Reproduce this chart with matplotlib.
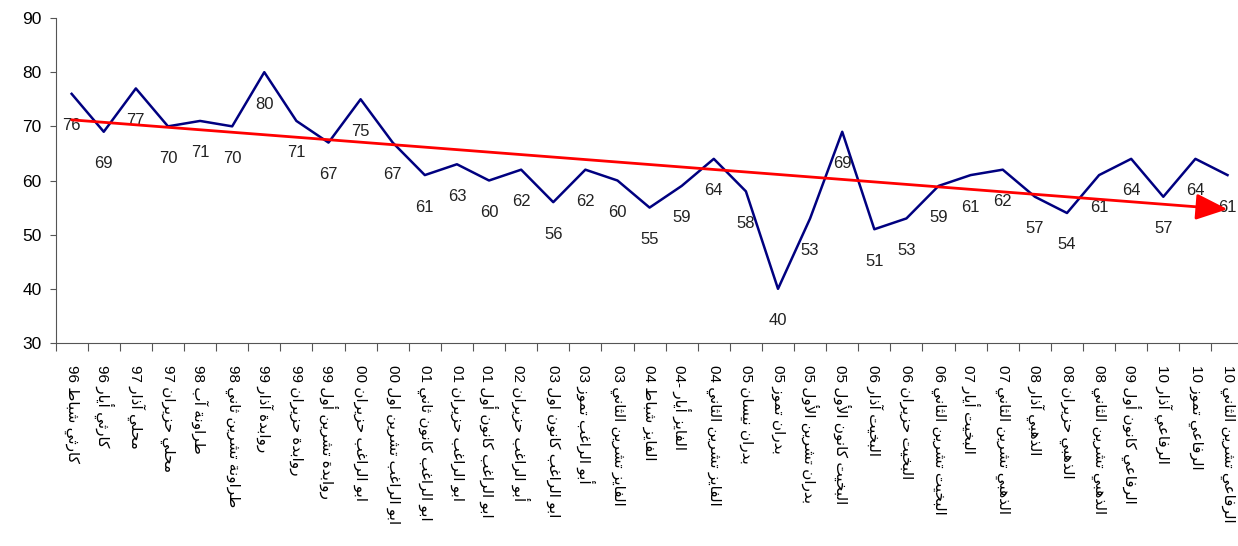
import matplotlib
matplotlib.use("Agg")
import matplotlib.pyplot as plt

plt.rcParams["font.family"] = ["Liberation Sans", "DejaVu Sans"]

labels = [
    "كارثي شباط 96", "كارثي أيار 96", "محلي آذار 97", "محلي حزيران 97",
    "طراونة آب 98", "طراونة تشرين ثاني 98", "روابدة آذار 99", "روابدة حزيران 99",
    "روابدة تشرين أول 99", "ابو الراغب حزيران 00", "ابو الراغب تشرين اول 00",
    "ابو الراغب كانون ثاني 01", "ابو الراغب حزيران 01", "ابو الراغب كانون أول 01",
    "أبو الراغب حزيران 02", "ابو الراغب كانون اول 03", "أبو الراغب تموز 03",
    "الفايز تشرين الثاني 03", "الفايز شباط 04", "الفايز أيار 04-",
    "الفايز تشرين الثاني 04", "بدران نيسان 05", "بدران تموز 05",
    "بدران تشرين الأول 05", "البخيت كانون الأول 05", "البخيت آذار 06",
    "البخيت حزيران 06", "البخيت تشرين الثاني 06", "البخيت أيار 07",
    "الذهبي تشرين الثاني 07", "الذهبي آذار 08", "الذهبي حزيران 08",
    "الذهبي تشرين الثاني 08", "الرفاعي كانون أول 09", "الرفاعي آذار 10",
    "الرفاعي تموز 10", "الرفاعي تشرين الثاني 10",
]
values = [76, 69, 77, 70, 71, 70, 80, 71, 67, 75, 67, 61, 63, 60, 62, 56, 62, 60, 55,
          59, 64, 58, 40, 53, 69, 51, 53, 59, 61, 62, 57, 54, 61, 64, 57, 64, 61]
trend = [71.2, 54.7]

# --- minimal Arabic shaping (matplotlib has no bidi/shaping) ---
FORMS = {
    "ء": (0xFE80, 1), "آ": (0xFE81, 2), "أ": (0xFE83, 2), "ؤ": (0xFE85, 2), "إ": (0xFE87, 2),
    "ئ": (0xFE89, 4), "ا": (0xFE8D, 2), "ب": (0xFE8F, 4), "ة": (0xFE93, 2), "ت": (0xFE95, 4),
    "ث": (0xFE99, 4), "ج": (0xFE9D, 4), "ح": (0xFEA1, 4), "خ": (0xFEA5, 4), "د": (0xFEA9, 2),
    "ذ": (0xFEAB, 2), "ر": (0xFEAD, 2), "ز": (0xFEAF, 2), "س": (0xFEB1, 4), "ش": (0xFEB5, 4),
    "ص": (0xFEB9, 4), "ض": (0xFEBD, 4), "ط": (0xFEC1, 4), "ظ": (0xFEC5, 4), "ع": (0xFEC9, 4),
    "غ": (0xFECD, 4), "ف": (0xFED1, 4), "ق": (0xFED5, 4), "ك": (0xFED9, 4), "ل": (0xFEDD, 4),
    "م": (0xFEE1, 4), "ن": (0xFEE5, 4), "ه": (0xFEE9, 4), "و": (0xFEED, 2), "ى": (0xFEEF, 2),
    "ي": (0xFEF1, 4),
}
LAM_ALEF = {"آ": 0xFEF5, "أ": 0xFEF7, "إ": 0xFEF9, "ا": 0xFEFB}


def shape_word(w):
    chars = []
    i = 0
    while i < len(w):
        if w[i] == "ل" and i + 1 < len(w) and w[i + 1] in LAM_ALEF:
            chars.append(("LA", w[i + 1]))
            i += 2
        else:
            chars.append(w[i])
            i += 1
    out = []
    for k, c in enumerate(chars):
        prev = chars[k - 1] if k > 0 else None
        joins_prev = (prev is not None and not isinstance(prev, tuple)
                      and FORMS.get(prev, (0, 1))[1] == 4)
        if isinstance(c, tuple):
            out.append(chr(LAM_ALEF[c[1]] + (1 if joins_prev else 0)))
            continue
        if c not in FORMS:
            out.append(c)
            continue
        base, n = FORMS[c]
        nxt = chars[k + 1] if k + 1 < len(chars) else None
        joins_next = n == 4 and nxt is not None and (isinstance(nxt, tuple) or (nxt in FORMS and nxt != "ء"))
        if joins_prev and joins_next:
            code = base + 3
        elif joins_prev:
            code = base + 1
        elif joins_next:
            code = base + 2
        else:
            code = base
        out.append(chr(code))
    return "".join(out)


def visual(s):
    parts = s.split()
    num, words = parts[-1], parts[:-1]
    shaped = " ".join(shape_word(w) for w in words)
    return num + " " + shaped[::-1]


x = list(range(len(values)))

fig = plt.figure(figsize=(12.38, 5.46), dpi=100)
ax = fig.add_axes([0.0449, 0.3718, 0.9596, 0.5952])

ax.plot(x, values, color="#000080", lw=1.8, zorder=2)
for xi, v in zip(x, values):
    ax.annotate(f"{v:.0f}", (xi, v), xytext=(0, -23), textcoords="offset points",
                ha="center", va="center", fontsize=12, color="#222222", zorder=3)

ax.annotate("", xy=(36, trend[1]), xytext=(0, trend[0]),
            arrowprops=dict(arrowstyle="-|>,head_length=0.65,head_width=0.27",
                            color="red", lw=2, mutation_scale=30, shrinkA=0, shrinkB=0),
            zorder=4)

ax.set_xlim(-0.5, len(values) - 0.5)
ax.set_ylim(30, 90)
ax.set_yticks(range(30, 91, 10))
ax.tick_params(axis="y", labelsize=12.5, length=4, pad=6, color="#555555")

ax.set_xticks([i - 0.5 for i in range(len(values) + 1)])
ax.set_xticklabels([])
ax.set_xticks(x, minor=True)
ax.set_xticklabels([visual(s) for s in labels], minor=True, rotation=-90,
                   ha="center", va="top", fontsize=11)
ax.tick_params(axis="x", which="major", length=6, color="#555555")
ax.tick_params(axis="x", which="minor", length=0, pad=16)

for side in ["top", "right"]:
    ax.spines[side].set_visible(False)
for side in ["left", "bottom"]:
    ax.spines[side].set_color("#555555")

fig.savefig("out.png", dpi=100)
